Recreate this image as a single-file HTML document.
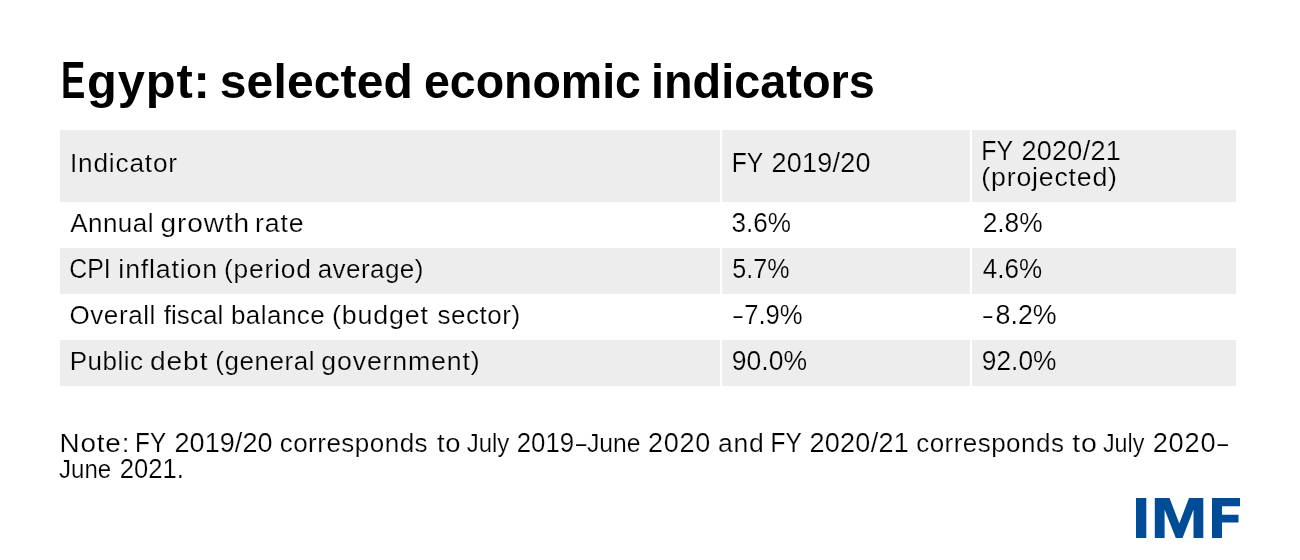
<!DOCTYPE html>
<html>
<head>
<meta charset="utf-8">
<title>Egypt: selected economic indicators</title>
<style>
html,body{margin:0;padding:0;}
body{width:1300px;height:560px;background:#fff;position:relative;overflow:hidden;font-family:"Liberation Sans",sans-serif;color:#000;}
.t{position:absolute;white-space:nowrap;line-height:1;transform-origin:0 0;display:block;}
.b{font-weight:bold;font-size:48px;}
.e{font-size:51.5px;}
.c{font-size:26px;}
.k{font-size:27px;}
.w{-webkit-text-stroke:0.2px #fff;}
.g{-webkit-text-stroke:0.2px #ededed;}
#txt{position:absolute;left:0;top:0;width:1300px;height:560px;will-change:transform;}
.row{position:absolute;left:60px;width:1176px;background:#ededed;}
.sep{position:absolute;top:130px;height:256px;width:2px;background:#fff;}
</style>
</head>
<body>
<div class="row" style="top:130px;height:72px;"></div>
<div class="row" style="top:248px;height:46px;"></div>
<div class="row" style="top:340px;height:46px;"></div>
<div class="sep" style="left:720px;"></div>
<div class="sep" style="left:970px;"></div>
<div id="txt">
<span class="t b e" id="ti0" style="left:60px;top:55px;transform:translateX(0.88px) scaleX(0.7067);">E</span>

<span class="t b" id="tj0" style="left:87px;top:58px;letter-spacing:0.80px;transform:translateX(0.08px) scaleX(1.0180);">gypt:</span>
<span class="t b" id="tj1" style="left:219px;top:58px;letter-spacing:0.16px;transform:translateX(0.70px) scaleX(1.0000);">selected</span>
<span class="t b" id="tj2" style="left:423px;top:58px;transform:translateX(0.93px) scaleX(0.9687);">economic</span>
<span class="t b" id="tj3" style="left:650px;top:58px;transform:translateX(0.97px) scaleX(0.9760);">indicators</span>

<span class="t c g" id="ha0" style="left:69px;top:150px;letter-spacing:0.80px;transform:translateX(0.88px) scaleX(1.0099);">Indicator</span>

<span class="t c k g" id="hb0" style="left:731px;top:150px;transform:translateX(0.77px) scaleX(0.9141);">FY</span>
<span class="t c k g" id="hb1" style="left:771px;top:150px;letter-spacing:0.25px;transform:translateX(0.40px) scaleX(1.0000);">2019/20</span>

<span class="t c k g" id="hc0" style="left:981px;top:138px;transform:translateX(0.36px) scaleX(0.9202);">FY</span>
<span class="t c k g" id="hc1" style="left:1021px;top:138px;letter-spacing:0.27px;transform:translateX(0.50px) scaleX(1.0000);">2020/21</span>

<span class="t c g" id="hd0" style="left:981px;top:164px;letter-spacing:0.80px;transform:translateX(0.37px) scaleX(1.0251);">(projected)</span>

<span class="t c w" id="ra0" style="left:70px;top:210px;letter-spacing:0.46px;transform:translateX(0.20px) scaleX(1.0000);">Annual</span>
<span class="t c w" id="ra1" style="left:160px;top:210px;letter-spacing:0.80px;transform:translateX(0.57px) scaleX(1.0801);">growth</span>
<span class="t c w" id="ra2" style="left:255px;top:210px;letter-spacing:0.80px;transform:translateX(0.12px) scaleX(1.0264);">rate</span>

<span class="t c k w" id="rb0" style="left:731px;top:210px;transform:translateX(0.53px) scaleX(0.9664);">3.6%</span>

<span class="t c k w" id="rc0" style="left:982px;top:210px;transform:translateX(0.68px) scaleX(0.9738);">2.8%</span>

<span class="t c k g" id="sa0" style="left:69px;top:256px;transform:translateX(0.28px) scaleX(0.9198);">CPI</span>
<span class="t c g" id="sa1" style="left:118px;top:256px;letter-spacing:0.80px;transform:translateX(0.37px) scaleX(1.0283);">inflation</span>
<span class="t c g" id="sa2" style="left:223px;top:256px;letter-spacing:0.80px;transform:translateX(0.89px) scaleX(1.0141);">(period</span>
<span class="t c g" id="sa3" style="left:317px;top:256px;letter-spacing:0.44px;transform:translateX(0.65px) scaleX(1.0000);">average)</span>

<span class="t c k g" id="sb0" style="left:732px;top:256px;transform:translateX(0.37px) scaleX(0.9284);">5.7%</span>

<span class="t c k g" id="sc0" style="left:982px;top:256px;transform:translateX(0.80px) scaleX(0.9637);">4.6%</span>

<span class="t c w" id="ua0" style="left:69px;top:302px;letter-spacing:0.60px;transform:translateX(0.40px) scaleX(1.0000);">Overall</span>
<span class="t c w" id="ua1" style="left:163px;top:302px;letter-spacing:0.10px;transform:translateX(0.65px) scaleX(1.0000);">fiscal</span>
<span class="t c w" id="ua2" style="left:230px;top:302px;letter-spacing:0.47px;transform:translateX(0.90px) scaleX(1.0000);">balance</span>
<span class="t c w" id="ua3" style="left:331px;top:302px;letter-spacing:0.80px;transform:translateX(0.97px) scaleX(1.0317);">(budget</span>
<span class="t c w" id="ua4" style="left:437px;top:302px;letter-spacing:0.52px;transform:translateX(0.60px) scaleX(1.0000);">sector)</span>

<span class="t c w" id="ub0" style="left:733px;top:302px;transform:translateX(0.40px) scaleX(0.6200);">&ndash;</span>
<span class="t c k w" id="ub1" style="left:744px;top:302px;transform:translateX(0.15px) scaleX(0.9499);">7.9%</span>

<span class="t c w" id="uc0" style="left:983px;top:302px;transform:translateX(0.20px) scaleX(0.6267);">&ndash;</span>
<span class="t c k w" id="uc1" style="left:995px;top:302px;transform:translateX(0.61px) scaleX(0.9928);">8.2%</span>

<span class="t c g" id="va0" style="left:69px;top:348px;letter-spacing:0.49px;transform:translateX(0.65px) scaleX(1.0000);">Public</span>
<span class="t c g" id="va1" style="left:150px;top:348px;letter-spacing:0.80px;transform:translateX(0.07px) scaleX(1.0828);">debt</span>
<span class="t c g" id="va2" style="left:215px;top:348px;letter-spacing:0.58px;transform:translateX(0.15px) scaleX(1.0000);">(general</span>
<span class="t c g" id="va3" style="left:321px;top:348px;letter-spacing:0.80px;transform:translateX(0.37px) scaleX(1.0276);">government)</span>

<span class="t c k g" id="vb0" style="left:731px;top:348px;transform:translateX(0.82px) scaleX(0.9821);">90.0%</span>

<span class="t c k g" id="vc0" style="left:981px;top:348px;transform:translateX(0.83px) scaleX(0.9742);">92.0%</span>

<span class="t c w" id="na0" style="left:59px;top:430px;letter-spacing:0.80px;transform:translateX(0.46px) scaleX(1.0700);">Note:</span>
<span class="t c k w" id="na1" style="left:135px;top:430px;transform:translateX(0.10px) scaleX(0.8987);">FY</span>
<span class="t c k w" id="na2" style="left:174px;top:430px;letter-spacing:0.10px;transform:translateX(0.40px) scaleX(1.0000);">2019/20</span>
<span class="t c w" id="na3" style="left:279px;top:430px;letter-spacing:0.48px;transform:translateX(0.70px) scaleX(1.0000);">corresponds</span>
<span class="t c w" id="na4" style="left:436px;top:430px;letter-spacing:0.80px;transform:translateX(0.90px) scaleX(1.0534);">to</span>
<span class="t c w" id="na5" style="left:466px;top:430px;transform:translateX(0.70px) scaleX(0.9214);">July</span>
<span class="t c k w" id="na6" style="left:516px;top:430px;transform:translateX(0.74px) scaleX(0.9561);">2019</span>
<span class="t c w" id="na7" style="left:576px;top:430px;transform:translateX(0.10px) scaleX(0.7200);">&ndash;</span>
<span class="t c w" id="na8" style="left:586px;top:430px;transform:translateX(0.90px) scaleX(0.9514);">June</span>
<span class="t c k w" id="na9" style="left:648px;top:430px;letter-spacing:0.72px;transform:translateX(0.10px) scaleX(1.0000);">2020</span>
<span class="t c w" id="na10" style="left:717px;top:430px;letter-spacing:0.80px;transform:translateX(0.88px) scaleX(1.0207);">and</span>
<span class="t c k w" id="na11" style="left:770px;top:430px;transform:translateX(0.49px) scaleX(0.9048);">FY</span>
<span class="t c k w" id="na12" style="left:809px;top:430px;letter-spacing:0.30px;transform:translateX(0.40px) scaleX(1.0000);">2020/21</span>
<span class="t c w" id="na13" style="left:916px;top:430px;letter-spacing:0.46px;transform:translateX(0.20px) scaleX(1.0000);">corresponds</span>
<span class="t c w" id="na14" style="left:1072px;top:430px;letter-spacing:0.80px;transform:translateX(0.20px) scaleX(1.0943);">to</span>
<span class="t c w" id="na15" style="left:1102px;top:430px;transform:translateX(0.90px) scaleX(0.8954);">July</span>
<span class="t c k w" id="na16" style="left:1152px;top:430px;letter-spacing:0.80px;transform:translateX(0.69px) scaleX(1.0075);">2020</span>
<span class="t c w" id="na17" style="left:1217px;top:430px;transform:translateX(0.60px) scaleX(0.7267);">&ndash;</span>

<span class="t c w" id="nb0" style="left:59px;top:456px;transform:translateX(0.10px) scaleX(0.9227);">June</span>
<span class="t c k w" id="nb1" style="left:119px;top:456px;transform:translateX(0.75px) scaleX(0.9483);">2021.</span>
</div>
<svg id="logo" style="position:absolute;left:1136px;top:498px;" width="104" height="40" viewBox="0 0 104 40">
<g fill="#004c97">
<rect x="0" y="0" width="10.3" height="40"/>
<path d="M18.8 0 H33.5 L43.3 25.5 L53 0 H67.3 V40 H57.5 V11.5 L46.5 40 H39.8 L28.6 11.5 V40 H18.8 Z"/>
<path d="M76 0 H104 V8.2 H86 V16.8 H102.5 V24.6 H86 V40 H76 Z"/>
</g>
</svg>
</body>
</html>
